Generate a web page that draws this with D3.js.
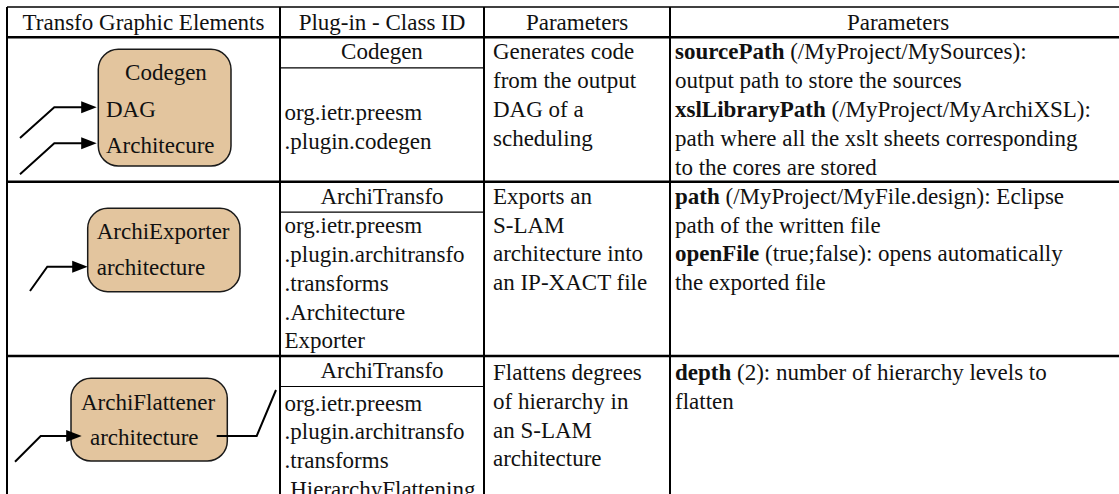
<!DOCTYPE html>
<html><head><meta charset="utf-8">
<script src="https://cdn.jsdelivr.net/npm/d3@7/dist/d3.min.js"></script>
<style>html,body{margin:0;padding:0;background:#fff;overflow:hidden}svg{display:block}</style>
</head><body><svg id="c" width="1119" height="494"></svg>
<script>
// ---------- data ----------
const headers = ["Transfo Graphic Elements", "Plug-in - Class ID", "Parameters", "Parameters"];
const elementNames = ["Codegen", "ArchiExporter", "ArchiFlattener"];
const elementPorts = [["DAG", "Architecure"], ["architecture"], ["architecture"]];
const pluginNames = ["Codegen", "ArchiTransfo", "ArchiTransfo"];
const classIds = [
  ["org.ietr.preesm", ".plugin.codegen"],
  ["org.ietr.preesm", ".plugin.architransfo", ".transforms", ".Architecture", "Exporter"],
  ["org.ietr.preesm", ".plugin.architransfo", ".transforms", ".HierarchyFlattening"]
];
const descriptions = [
  ["Generates code", "from the output", "DAG of a", "scheduling"],
  ["Exports an", "S-LAM", "architecture into", "an IP-XACT file"],
  ["Flattens degrees", "of hierarchy in", "an S-LAM", "architecture"]
];
const parameterLines = [
  [["sourcePath", " (/MyProject/MySources):"], ["", "output path to store the sources"],
   ["xslLibraryPath", " (/MyProject/MyArchiXSL):"], ["", "path where all the xslt sheets corresponding"],
   ["", "to the cores are stored"]],
  [["path", " (/MyProject/MyFile.design): Eclipse"], ["", "path of the written file"],
   ["openFile", " (true;false): opens automatically"], ["", "the exported file"]],
  [["depth", " (2): number of hierarchy levels to"], ["", "flatten"]]
];

// ---------- layout ----------
const W = 1119, H = 494;
const FONT = "'Liberation Serif', 'Times New Roman', serif";
const FS = 23, LH = 28.8;
const x = d3.scaleLinear().domain([0, 1, 2, 3, 4]).range([7, 280, 484, 670, 1130]);
const y = d3.scaleLinear().domain([0, 1, 2, 3, 4]).range([7, 37.3, 181.7, 356, 560]);
const rowTop = i => y(i + 1), rowBot = i => y(i + 2);

// graphic element geometry, relative to row top
const nodeLayout = [
  { box: [98.3, 12, 132.7, 116.7], title: { x: 166, dy: 43, anchor: "middle" },
    ports: [{ x: 106, dy: 79.4 }, { x: 106, dy: 115.7 }],
    inArrows: [{ sx: 20, sdy: 100.7, bx: 54.3, dy: 70, tip: 96.7 }, { sx: 20, sdy: 137, bx: 54.3, dy: 106, tip: 96.7 }],
    out: null },
  { box: [87.7, 26.6, 152.3, 83.4], title: { x: 96.7, dy: 57.3, anchor: "start" },
    ports: [{ x: 96.7, dy: 93.3 }],
    inArrows: [{ sx: 30, sdy: 109.3, bx: 47.3, dy: 85, tip: 87.7 }],
    out: null },
  { box: [71, 22.3, 156.3, 82.7], title: { x: 148, dy: 54, anchor: "middle" },
    ports: [{ x: 90, dy: 89 }],
    inArrows: [{ sx: 15, sdy: 105.7, bx: 40.7, dy: 80, tip: 81.7 }],
    out: { x1: 216.7, x2: 256.7, dy: 80, ex: 276, edy: 34 } }
];

const svg = d3.select("#c");
svg.append("rect").attr("width", W).attr("height", H).attr("fill", "#fff");
const txt = "#111";

function text(g, s, px, py, anchor, weight) {
  return g.append("text").attr("x", px).attr("y", py).attr("text-anchor", anchor || "start")
    .attr("font-family", FONT).attr("font-size", FS).attr("font-weight", weight || "normal")
    .attr("fill", txt).text(s);
}

// headers
const gh = svg.append("g");
headers.forEach((h, i) => text(gh, h, x(i + 0.5) + (i === 3 ? -2 : 0), 30, "middle"));

// rows
const gt = svg.append("g");
d3.range(3).forEach(r => {
  const top = rowTop(r), bot = rowBot(r);
  // plugin name + sub line
  text(gt, pluginNames[r], x(1.5), top + 22, "middle");
  const subY = top + 30.5;
  gt.append("line").attr("x1", x(1)).attr("x2", x(2)).attr("y1", subY).attr("y2", subY)
    .attr("stroke", "#000").attr("stroke-width", 1.2);
  // class id lines
  const ids = classIds[r];
  let start;
  if (r === 0) start = (subY + bot) / 2 - (ids.length - 1) * LH / 2 + 10;
  else start = subY + 21 + (r === 2 ? 3 : 0);
  ids.forEach((s, k) => text(gt, s, x(1) + 4.5, start + k * LH, "start"));
  // descriptions
  const dStart = top + 22 + (r === 2 ? 2 : 0);
  descriptions[r].forEach((s, k) => text(gt, s, x(2) + 9, dStart + k * LH, "start"));
  // parameters
  parameterLines[r].forEach((ln, k) => {
    const t = text(gt, "", x(3) + 5, dStart + k * LH, "start");
    if (ln[0]) t.append("tspan").attr("font-weight", "bold").text(ln[0]);
    t.append("tspan").text(ln[1]);
  });
});

// graphic elements
const gg = svg.append("g");
nodeLayout.forEach((L, r) => {
  const top = rowTop(r);
  gg.append("rect").attr("x", L.box[0]).attr("y", top + L.box[1]).attr("width", L.box[2]).attr("height", L.box[3])
    .attr("rx", 20).attr("ry", 20).attr("fill", "#E3C59E").attr("stroke", "#1a1a1a").attr("stroke-width", 1.5);
  text(gg, elementNames[r], L.title.x, top + L.title.dy, L.title.anchor);
  elementPorts[r].forEach((p, k) => text(gg, p, L.ports[k].x, top + L.ports[k].dy, "start"));
  const line = d3.line();
  L.inArrows.forEach(a => {
    const ay = top + a.dy;
    gg.append("path").attr("d", line([[a.sx, top + a.sdy], [a.bx, ay], [a.tip - 12, ay]]))
      .attr("fill", "none").attr("stroke", "#000").attr("stroke-width", 2);
    gg.append("path").attr("d", line([[a.tip, ay], [a.tip - 15.5, ay - 6], [a.tip - 15.5, ay + 6]]) + "Z")
      .attr("fill", "#000");
  });
  if (L.out) {
    const o = L.out, oy = top + o.dy;
    gg.append("path").attr("d", line([[o.x1, oy], [o.x2, oy], [o.ex, top + o.edy]]))
      .attr("fill", "none").attr("stroke", "#000").attr("stroke-width", 2);
  }
});

// table grid
const gl = svg.append("g").attr("stroke", "#000");
gl.append("line").attr("x1", x(0)).attr("x2", W + 5).attr("y1", y(0)).attr("y2", y(0)).attr("stroke-width", 1.5);
[1, 2, 3].forEach(i => gl.append("line").attr("x1", x(0)).attr("x2", W + 5).attr("y1", y(i)).attr("y2", y(i)).attr("stroke-width", 2.6));
[0, 1, 2, 3].forEach(i => gl.append("line").attr("x1", x(i)).attr("x2", x(i)).attr("y1", y(0)).attr("y2", H + 5).attr("stroke-width", 2));
</script></body></html>
